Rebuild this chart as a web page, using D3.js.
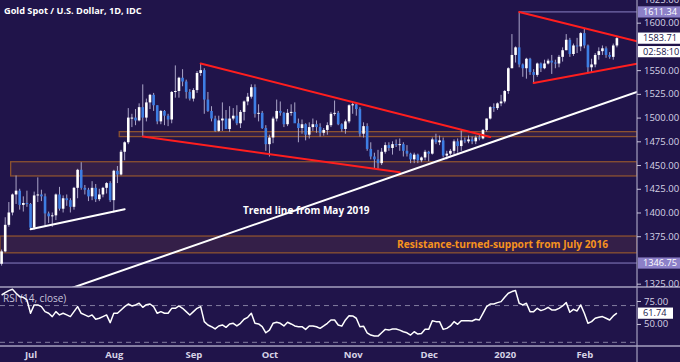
<!DOCTYPE html>
<html><head><meta charset="utf-8">
<script src="https://cdn.jsdelivr.net/npm/d3@7/dist/d3.min.js"></script>
<style>
html,body{margin:0;padding:0;background:#20144a;}
svg{display:block;}
text{font-family:"Open Sans","Liberation Sans",sans-serif;}
</style></head><body>
<svg id="c" width="680" height="362"></svg>
<script>
const dates = ["2019-06-19","2019-06-20","2019-06-21","2019-06-24","2019-06-25","2019-06-26","2019-06-27","2019-06-28",
"2019-07-01","2019-07-02","2019-07-03","2019-07-04","2019-07-05","2019-07-08","2019-07-09","2019-07-10","2019-07-11","2019-07-12",
"2019-07-15","2019-07-16","2019-07-17","2019-07-18","2019-07-19","2019-07-22","2019-07-23","2019-07-24","2019-07-25","2019-07-26",
"2019-07-29","2019-07-30","2019-07-31",
"2019-08-01","2019-08-02","2019-08-05","2019-08-06","2019-08-07","2019-08-08","2019-08-09","2019-08-12","2019-08-13","2019-08-14",
"2019-08-15","2019-08-16","2019-08-19","2019-08-20","2019-08-21","2019-08-22","2019-08-23","2019-08-26","2019-08-27","2019-08-28",
"2019-08-29","2019-08-30",
"2019-09-02","2019-09-03","2019-09-04","2019-09-05","2019-09-06","2019-09-09","2019-09-10","2019-09-11","2019-09-12","2019-09-13",
"2019-09-16","2019-09-17","2019-09-18","2019-09-19","2019-09-20","2019-09-23","2019-09-24","2019-09-25","2019-09-26","2019-09-27",
"2019-09-30",
"2019-10-01","2019-10-02","2019-10-03","2019-10-04","2019-10-07","2019-10-08","2019-10-09","2019-10-10","2019-10-11","2019-10-14",
"2019-10-15","2019-10-16","2019-10-17","2019-10-18","2019-10-21","2019-10-22","2019-10-23","2019-10-24","2019-10-25","2019-10-28",
"2019-10-29","2019-10-30","2019-10-31",
"2019-11-01","2019-11-04","2019-11-05","2019-11-06","2019-11-07","2019-11-08","2019-11-11","2019-11-12","2019-11-13","2019-11-14",
"2019-11-15","2019-11-18","2019-11-19","2019-11-20","2019-11-21","2019-11-22","2019-11-25","2019-11-26","2019-11-27","2019-11-28",
"2019-11-29",
"2019-12-02","2019-12-03","2019-12-04","2019-12-05","2019-12-06","2019-12-09","2019-12-10","2019-12-11","2019-12-12","2019-12-13",
"2019-12-16","2019-12-17","2019-12-18","2019-12-19","2019-12-20","2019-12-23","2019-12-24","2019-12-26","2019-12-27","2019-12-30",
"2019-12-31",
"2020-01-02","2020-01-03","2020-01-06","2020-01-07","2020-01-08","2020-01-09","2020-01-10","2020-01-13","2020-01-14","2020-01-15",
"2020-01-16","2020-01-17","2020-01-20","2020-01-21","2020-01-22","2020-01-23","2020-01-24","2020-01-27","2020-01-28","2020-01-29",
"2020-01-30","2020-01-31",
"2020-02-03","2020-02-04","2020-02-05","2020-02-06","2020-02-07","2020-02-10","2020-02-11","2020-02-12","2020-02-13","2020-02-14"];

const opens = [1346,1359,1387,1400,1419,1423,1408,1410,
1409,1384,1418,1419,1417,1399,1396,1397,1419,1404,1415,1413,1406,1426,1445,1426,1424,1417,1426,1414,1419,1426,1431,
1413,1444,1440,1464,1474,1500,1500,1497,1511,1500,1516,1524,1513,1496,1507,1502,1498,1527,1528,1542,1538,1527,
1520,1529,1547,1550,1519,1507,1499,1486,1497,1499,1488,1499,1502,1494,1506,1517,1522,1532,1504,1505,1489,
1472,1479,1499,1507,1505,1493,1505,1506,1494,1489,1493,1482,1490,1493,1490,1484,1487,1492,1504,1505,1493,1488,1496,
1513,1514,1509,1483,1491,1467,1459,1456,1452,1464,1471,1468,1472,1471,1472,1465,1462,1456,1461,1455,1458,
1464,1462,1477,1474,1476,1460,1462,1465,1475,1470,1476,1475,1477,1475,1479,1478,1487,1499,1511,1510,1515,
1517,1528,1552,1566,1574,1556,1552,1562,1548,1545,1557,1552,1557,1560,1558,1557,1564,1571,1582,1567,1576,1575,
1589,1576,1553,1556,1566,1570,1573,1566,1564,1576];

const highs = [1361,1395,1411,1420,1439,1425,1417,1423,
1410,1422,1437,1424,1420,1401,1400,1420,1427,1418,1419,1415,1427,1446,1453,1429,1426,1433,1430,1425,1427,1432,1433,
1445,1449,1466,1475,1510,1504,1509,1515,1535,1520,1525,1526,1513,1508,1508,1504,1528,1555,1543,1551,1540,1530,
1531,1549,1557,1552,1527,1512,1502,1502,1516,1508,1512,1510,1513,1508,1518,1526,1535,1535,1514,1507,1492,
1482,1501,1519,1517,1506,1509,1514,1516,1499,1498,1494,1495,1499,1497,1494,1489,1495,1506,1518,1507,1494,1498,1514,
1517,1515,1511,1495,1494,1474,1463,1466,1468,1474,1474,1475,1477,1478,1474,1471,1463,1463,1462,1459,1466,
1465,1479,1483,1481,1479,1465,1467,1477,1478,1487,1479,1481,1480,1481,1482,1488,1499,1512,1515,1516,1524,
1529,1553,1588,1575,1611.34,1557,1563,1563,1551,1558,1558,1561,1562,1566,1561,1566,1574,1588,1584,1578,1584,1590,
1594,1577,1562,1568,1574,1576,1575,1569,1578,1585];

const lows = [1344,1358,1385,1397,1409,1403,1401,1406,
1382,1382,1411,1412,1386,1389,1385,1392,1402,1400,1407,1400,1403,1415,1424,1419,1412,1413,1411,1412,1416,1420,1411,
1400,1431,1439,1455,1472,1490,1492,1496,1480,1496,1509,1507,1493,1493,1492,1491,1494,1521,1521,1533,1520,1518,
1517,1526,1544,1504,1506,1496,1485,1485,1486,1488,1485,1497,1492,1489,1497,1513,1520,1500,1496,1488,1465,
1459,1473,1496,1502,1490,1491,1502,1495,1474,1483,1476,1478,1486,1484,1480,1481,1482,1490,1502,1492,1485,1483,1494,
1504,1502,1480,1479,1465,1456,1446,1446,1450,1462,1465,1461,1469,1465,1459,1459,1452,1452,1452,1453,1455,
1454,1461,1472,1471,1458,1456,1460,1461,1463,1465,1473,1473,1472,1472,1476,1477,1485,1498,1506,1508,1512,
1515,1525,1552,1558,1553,1543,1541,1545,1536,1543,1548,1551,1556,1546,1552,1553,1559,1571,1564,1565,1568,1570,
1573,1548,1547,1553,1561,1566,1563,1562,1561,1574];

const closes = [1359,1387,1400,1419,1423,1408,1410,1409,
1384,1418,1419,1417,1399,1396,1397,1419,1404,1415,1413,1406,1426,1445,1426,1424,1417,1426,1414,1419,1426,1431,1413,
1444,1440,1464,1474,1500,1500,1497,1511,1500,1516,1524,1513,1496,1507,1502,1498,1527,1528,1542,1538,1527,1520,
1529,1547,1550,1519,1507,1499,1486,1497,1499,1488,1499,1502,1494,1506,1517,1522,1532,1504,1505,1489,1472,
1479,1499,1507,1505,1493,1505,1506,1494,1489,1493,1482,1490,1493,1490,1484,1487,1492,1504,1505,1493,1488,1496,1513,
1514,1509,1483,1491,1467,1459,1456,1452,1464,1471,1468,1472,1471,1472,1465,1462,1456,1461,1455,1458,1464,
1462,1477,1474,1476,1460,1462,1465,1475,1470,1476,1475,1477,1475,1479,1478,1487,1499,1511,1510,1515,1517,
1528,1552,1566,1574,1556,1552,1562,1548,1545,1557,1552,1557,1560,1558,1557,1564,1571,1582,1567,1576,1575,1589,
1576,1553,1556,1566,1570,1573,1566,1564,1576,1583.71];

const rsi = [81.5,84,86.3,87.7,83.4,79.7,79,76.1,
61.6,70.7,70.7,68.8,63.4,61.6,58,63.4,59.8,61.6,59.8,58,63.4,68.8,61.6,59.8,58,59.8,55.1,56.2,58,59.8,51.4,
61.6,61.6,65.2,68.8,71.7,69.6,70.7,72.5,68.1,71,71.7,68.8,61.6,63.4,61.6,61.6,67,67,69.6,67,63.4,59.8,
63.4,67,68.8,52.5,48.9,47,44.6,47.8,48.9,46.3,50,50.7,47.8,50.7,55.1,57.2,61.6,50.7,50,47,40.4,
43.3,50.7,51.8,50.7,47.8,51.8,50,47.8,47,47,44.1,47.8,47.8,47,45.2,47.8,50.7,54.3,54.3,48.9,47.6,54.3,59,
58.7,56.2,47,47.6,40.4,37.9,36.8,36.8,40.4,44.1,43.3,44.4,44.4,43.3,41.5,40.4,37.9,41.5,39,39.7,44.1,
44.1,53.5,52.5,52.5,44.1,45.2,47.8,52.5,49.6,53.5,53.5,53.5,53.2,55.1,54.3,61.6,68.8,71.7,71.7,73.2,74.3,
79,83.4,85.2,86.3,72.5,70.7,72.5,63.4,63.4,67,64.5,65.9,68.1,65.2,65.2,67,69.6,73.2,62.7,65.9,64.1,70.7,
61.6,50.7,52.5,56.2,57.2,58,56.2,54.3,58.7,61.74];

// tick labels visible on the price scale (1350 and 1575 are covered by value badges)
const priceTicks = [1325,1375,1400,1425,1450,1475,1500,1525,1550,1600,1625];
const rsiTicks = [50,75];
const rsiLevels = [30,70];
const monthTicks = ["2019-07-01","2019-08-01","2019-09-02","2019-10-01","2019-11-01","2019-12-02","2020-01-02","2020-02-03"];
const monthLabels = ["Jul","Aug","Sep","Oct","Nov","Dec","2020","Feb"];

// zones: start date, low, high
const zoneStarts = ["2019-08-05","2019-06-24","2019-06-19"];
const zoneLows = [1480,1438.5,1357.5];
const zoneHighs = [1485.2,1453.5,1375.2];

// trend lines: [startDate, startPrice, endDate, endPrice]
const redLines = [
  ["2019-09-04",1557,"2019-12-26",1479.6],
  ["2019-08-13",1480,"2019-11-20",1442.4],
  ["2020-01-08",1611.34,"2020-02-03",1594.2],
  ["2020-01-14",1536.5,"2020-02-05",1547.9]];
const redExtend = [false,false,true,true];
const whiteLines = [
  ["2019-07-01",1382.3,"2019-08-06",1403.4],
  ["2019-07-01",1305.4,"2020-02-14",1519.8]];
const whiteExtend = [false,true];

const hiLevel = 1611.34, loLevel = 1346.75, lastPrice = 1583.71, countdown = "02:58:10", lastRsi = 61.74;
const title = "Gold Spot / U.S. Dollar, 1D, IDC";

// ---------- drawing ----------
const W = 680, H = 362, axisX = 637, priceBottom = 287, rsiBottom = 346;
const bg = "#20144a", upCol = "#ffffff", downCol = "#3e7ee4", wickCol = "#aaa5c8";
const svg = d3.select("#c");
svg.append("rect").attr("width",W).attr("height",H).attr("fill",bg);

const idx = d => dates.indexOf(d);
const x = d3.scaleLinear().domain([0, dates.length-1]).range([1.6, 616.9]);
const y = d3.scaleLinear().domain([1321.5, 1623.9]).range([priceBottom, 0]);
const yr = d3.scaleLinear().domain([26.0, 90.2]).range([rsiBottom, priceBottom]);

const defs = svg.append("defs");
defs.append("clipPath").attr("id","cp").append("rect").attr("x",0).attr("y",0).attr("width",axisX).attr("height",priceBottom);
defs.append("clipPath").attr("id","cr").append("rect").attr("x",0).attr("y",priceBottom).attr("width",axisX).attr("height",rsiBottom-priceBottom);
defs.append("clipPath").attr("id","ca").append("rect").attr("x",axisX).attr("y",0).attr("width",W-axisX).attr("height",priceBottom);

const gp = svg.append("g").attr("clip-path","url(#cp)");

// zones
zoneStarts.forEach((s,k)=>{
  const x0 = Math.max(0, x(idx(s)) - 1.8);
  gp.append("rect").attr("x",x0).attr("y",y(zoneHighs[k])).attr("width",axisX - x0)
    .attr("height",y(zoneLows[k]) - y(zoneHighs[k]))
    .attr("fill","rgba(190,105,60,0.13)").attr("stroke","#8c5230").attr("stroke-width",1.3);
});

// low level line
gp.append("line").attr("x1",0).attr("x2",axisX).attr("y1",y(loLevel)).attr("y2",y(loLevel))
  .attr("stroke","#8a80c4").attr("stroke-width",1);
// high level line
const hiIdx = highs.indexOf(hiLevel);
gp.append("line").attr("x1",x(hiIdx)).attr("x2",axisX).attr("y1",y(hiLevel)).attr("y2",y(hiLevel))
  .attr("stroke","#8a80c4").attr("stroke-width",1);

// candles
const bars = dates.map((d,i)=>({i,o:opens[i],h:highs[i],l:lows[i],c:closes[i]}));
gp.selectAll("line.w").data(bars).join("line").attr("class","w")
  .attr("x1",d=>x(d.i)).attr("x2",d=>x(d.i)).attr("y1",d=>y(d.h)).attr("y2",d=>y(d.l))
  .attr("stroke",wickCol).attr("stroke-width",1);
gp.selectAll("rect.b").data(bars).join("rect").attr("class","b")
  .attr("x",d=>x(d.i)-1.3).attr("width",2.6)
  .attr("y",d=>y(Math.max(d.o,d.c))).attr("height",d=>Math.max(1,Math.abs(y(d.o)-y(d.c))))
  .attr("fill",d=>d.c>=d.o?upCol:downCol);

// trend lines
function drawLine(seg, ext, col){
  const i0 = idx(seg[0]), i1 = idx(seg[2]);
  const slope = (seg[3]-seg[1])/(i1-i0);
  const iEnd = ext ? x.invert(axisX) : i1;
  gp.append("line").attr("x1",x(i0)).attr("y1",y(seg[1]))
    .attr("x2",x(iEnd)).attr("y2",y(seg[1]+slope*(iEnd-i0)))
    .attr("stroke",col).attr("stroke-width",2).attr("stroke-linecap","round");
}
redLines.forEach((s,k)=>drawLine(s,redExtend[k],"#ff1e1e"));
whiteLines.forEach((s,k)=>drawLine(s,whiteExtend[k],"#ffffff"));

// annotations
gp.append("text").attr("x",243).attr("y",214).text("Trend line from May 2019")
  .attr("fill","#ffffff").attr("font-weight","bold").attr("font-size",10);
gp.append("text").attr("x",397).attr("y",248).text("Resistance-turned-support from July 2016")
  .attr("fill","#f7931e").attr("font-weight","bold").attr("font-size",10.2);

// title
svg.append("text").attr("x",4).attr("y",14).text(title)
  .attr("fill","#ffffff").attr("font-weight","bold").attr("font-size",9.2);

// RSI panel
const gr = svg.append("g").attr("clip-path","url(#cr)");
rsiLevels.forEach(v=>{
  gr.append("line").attr("x1",0).attr("x2",axisX).attr("y1",yr(v)).attr("y2",yr(v))
    .attr("stroke","#837da0").attr("stroke-width",1).attr("stroke-dasharray","5,4");
});
gr.append("text").attr("x",3).attr("y",302).text("RSI (14, close)")
  .attr("fill","#c9c5dc").attr("font-size",10);
gr.append("path").datum(rsi).attr("fill","none").attr("stroke","#ffffff").attr("stroke-width",1.5)
  .attr("stroke-linejoin","round")
  .attr("d",d3.line().x((d,i)=>x(i)).y(d=>yr(d)));

// separators
svg.append("line").attr("x1",0).attr("x2",W).attr("y1",priceBottom).attr("y2",priceBottom).attr("stroke","#a49fbf").attr("stroke-width",1.5);
svg.append("line").attr("x1",0).attr("x2",W).attr("y1",rsiBottom).attr("y2",rsiBottom).attr("stroke","#a49fbf").attr("stroke-width",1.5);
svg.append("line").attr("x1",axisX).attr("x2",axisX).attr("y1",0).attr("y2",H).attr("stroke","#a49fbf").attr("stroke-width",1.2);

// price axis
const ga = svg.append("g").attr("clip-path","url(#ca)").append("g").attr("transform",`translate(${axisX},0)`)
  .call(d3.axisRight(y).tickValues(priceTicks).tickFormat(d3.format(".2f")).tickSize(4).tickPadding(3));
ga.select(".domain").remove();
ga.selectAll(".tick line").attr("stroke","#c9c5dc");
ga.selectAll(".tick text").attr("fill","#d6d3e6").attr("font-size",9.5).attr("font-family","Open Sans, sans-serif");

const gra = svg.append("g").attr("transform",`translate(${axisX},0)`)
  .call(d3.axisRight(yr).tickValues(rsiTicks).tickFormat(d3.format(".2f")).tickSize(4).tickPadding(3));
gra.select(".domain").remove();
gra.selectAll(".tick line").attr("stroke","#c9c5dc");
gra.selectAll(".tick text").attr("fill","#d6d3e6").attr("font-size",9.5).attr("font-family","Open Sans, sans-serif");

// value badges
function badge(yv, txt, fill, tcol, w){
  svg.append("rect").attr("x",axisX+1).attr("y",yv-5.6).attr("width",w).attr("height",11.2).attr("fill",fill);
  svg.append("text").attr("x",axisX+6).attr("y",yv+3.3).text(txt).attr("fill",tcol)
    .attr("font-size",9.2).attr("font-family","Open Sans, sans-serif");
}
badge(y(hiLevel), d3.format(".2f")(hiLevel), "#8c80c8", "#ffffff", 43);
badge(y(loLevel), d3.format(".2f")(loLevel), "#8c80c8", "#ffffff", 43);
badge(y(lastPrice), d3.format(".2f")(lastPrice), "#ffffff", "#20144a", 43);
badge(y(lastPrice)+13.5, countdown, "#ffffff", "#20144a", 43);
badge(yr(lastRsi), d3.format(".2f")(lastRsi), "#ffffff", "#20144a", 35);

// time axis
const gx = svg.append("g").attr("transform",`translate(0,${rsiBottom})`)
  .call(d3.axisBottom(x).tickValues(monthTicks.map(idx)).tickFormat((d,k)=>monthLabels[k]).tickSize(0).tickPadding(5));
gx.select(".domain").remove();
gx.selectAll(".tick text").attr("fill","#d6d3e6").attr("font-size",9.5).attr("font-weight","bold").attr("font-family","Open Sans, sans-serif");
</script>
</body></html>
